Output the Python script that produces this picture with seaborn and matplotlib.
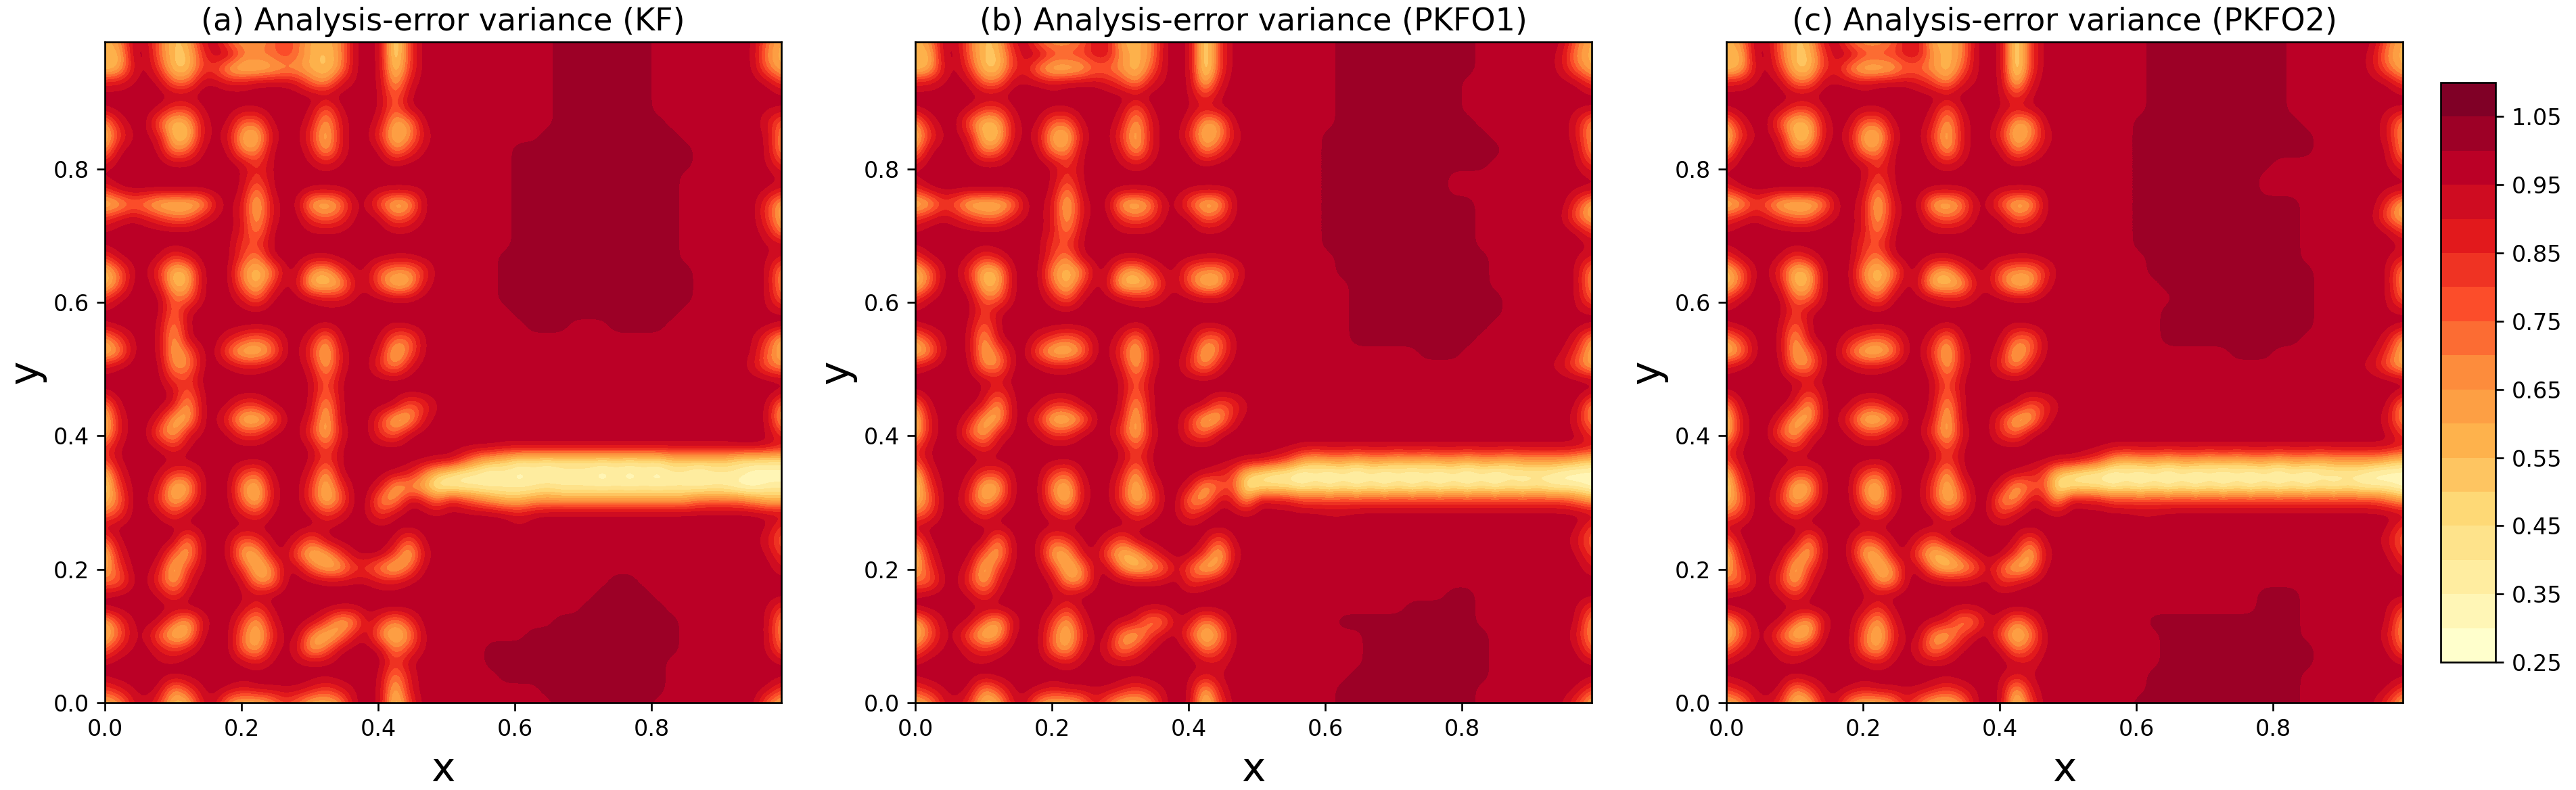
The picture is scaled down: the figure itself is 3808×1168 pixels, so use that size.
import numpy as np
import matplotlib
matplotlib.use('Agg')
import matplotlib.pyplot as plt
from matplotlib.colors import BoundaryNorm, ListedColormap
import seaborn as sns

# variance on a 50x50 grid, top row first.
# each character is one grid value, see band_chars / band_values
band_chars = list('0123456789.#')
band_values = [0.30, 0.37, 0.44, 0.52, 0.57, 0.64, 0.72, 0.81, 0.90, 0.955, 0.98, 1.025]

left_kf = [
    "45996 34896 55676 4459. 917..", "439.6 33799 66676 4359. 917..",
    "348.7 33774 33455 4359. 927..", "889.9 66998 89998 6589. 948..",
    "..... ..... ..... ..... 969..", "9...9 779.. 99... 969.. 969..",
    "58..6 348.9 669.. 848.. 8459.", "379.8 338.8 438.. 738.. 7358.",
    "59..9 569.9 559.. 848.. 9579.", "8.... 99... 979.. 989.. .9...",
    "..... ..... 979.. ..... .....", "79... ..... 959.. 999.. 9999.",
    "34653 3348. 838.9 43599 6349.", "78987 6689. 848.. 7679. 9679.",
    "9.... ..... 859.. 999.. .99..", "..... ..... 779.. ..... .....",
    "79..9 78... 759.. 99... .99..", "369.7 349.. 53599 54799 6557.",
    "36..8 349.. 637.8 33489 6348.", "79... 669.. 869.. 9889. .99..",
    "..... 69... ..... ..... .....", "9...9 59... ..... .9... .9...",
    "579.9 49..8 7679. 859.. 9669.", "359.9 469.6 3359. 738.. 8369.",
    "89... 559.9 889.. 848.. 758..", "..... 77... ..... 969.. .....",
    "9.... 969.. ..... 969.. .....", "59... 849.9 779.. 949.. .9679",
    "38..8 449.7 3359. 839.. 7348.", "38..6 489.9 779.. 738.. 769..",
    "79..9 79... ..... 969.. .....", "79... ..... ..... 979.. ....9",
    "38..9 779.. 769.. 849.. .9863", "27..8 349.. 538.. 737.. 84541",
    "36..7 469.. 638.. 736.. 55986", "67..9 79... 879.. 978.9 79..9",
    "9.... .9... ..... .9... .....", "69... .59.9 679.8 69... .969.",
    "38... 649.9 448.6 3479. .738.", "47..8 379.. 73599 64477 5369.",
    "669.7 48... 9559. .9999 889..", "9...9 79... 99... ..... .....",
    "..... ..... 979.. ..99. .....", "479.9 648.. 748.. 97459 757..",
    "36996 349.. 637.9 53589 5359.", "689.8 78... 648.8 469.. 9579.",
    "9...9 9.... 989.9 99... .79..", "..... ..... ..... ..... 958..",
    "789.9 579.9 89999 8789. 938..", "45897 34895 44576 4459. 927..",
]

left_pkfo = [
    "45996 34896 55688 4459. 917..", "439.6 33799 77788 5459. 917..",
    "348.7 33785 33466 5369. 917..", "889.9 66999 89998 7589. 938..",
    "..... ..... ..... ..... 979..", "9...9 779.. 99... 969.. 989..",
    "58..6 348.9 669.. 848.. 8459.", "379.8 338.8 438.. 738.. 7358.",
    "59..9 569.9 559.. 848.. 9579.", "8.... 99... 979.. 989.. .9...",
    "..... ..... 979.. ..... .....", "79... ..... 959.. 999.. 9999.",
    "34763 3359. 838.9 43599 6349.", "78987 6689. 848.. 7679. 9679.",
    "9.... ..... 859.. 999.. .99..", "..... ..... 779.. ..... .....",
    "79..9 78... 759.. 99... .99..", "369.7 349.. 53599 54799 6557.",
    "36..8 349.. 637.8 33489 6348.", "79... 669.. 869.. 9889. .99..",
    "..... 79... ..... ..... .....", "9...9 69... ..... .9... .9...",
    "579.9 49..8 7679. 859.. 9669.", "359.9 469.6 3359. 738.. 8369.",
    "89... 559.9 889.. 848.. 758..", "..... 98... ..... 969.. .....",
    "9.... 979.. ..... 969.. .....", "59... 849.9 779.. 949.. .9679",
    "38..8 449.7 3359. 839.. 7348.", "38..6 489.9 779.. 738.. 769..",
    "79..9 79... ..... 969.. .....", "79... ..... ..... 979.. ....9",
    "38..9 779.. 769.. 849.. .9873", "27..8 349.. 538.. 737.. 84671",
    "36..7 469.. 638.. 736.. 55985", "67..9 79... 879.. 978.9 79..9",
    "9.... .9... ..... .9... .....", "69... .59.9 679.8 69... .969.",
    "38... 649.9 448.6 3479. .738.", "47..8 379.. 73599 53469 6359.",
    "669.7 48... 9559. .999. 789..", "9...9 79... 99... ..... .....",
    "..... ..... 979.. ..99. .....", "479.9 648.. 748.. 98569 857..",
    "36996 349.. 637.9 5479. 6359.", "689.8 78... 648.8 579.. 9579.",
    "9...9 9.... 989.9 99... .98..", "..... ..... ..... ..... 989..",
    "789.9 579.9 89999 8789. 948..", "45897 34895 44586 4459. 927..",
]

right_kf = [
    "..... ...## ##### ..... ..964", "..... ...## ##### ..... ..954",
    "..... ...## ##### ..... ..964", "..... ...## ##### ..... ...97",
    "..... ...## ##### ..... .....", "..... ...## ##### ..... ...99",
    "..... ...## ##### #.... ...86", "..... ..### ##### ##... ...95",
    "..... ##### ##### ###.. ...95", "..... ##### ##### ###.. ...97",
    "..... ##### ##### ##... ....9", "..... ##### ##### ##... ...98",
    "..... ##### ##### ##... ...74", "..... ##### ##### ##... ...74",
    "..... ##### ##### ##... ...85", "..... ##### ##### ##... ...99",
    "....# ##### ##### ##... ...98", "....# ##### ##### ###.. ...95",
    "....# ##### ##### ###.. ...95", "....# ##### ##### ###.. ...96",
    "..... ##### ##### ##... ...99", "..... .###. ..### #.... .....",
    "..... ..... ..... ..... ..974", "..... ..... ..... ..... ..964",
    "..... ..... ..... ..... ..865", "..... ..... ..... ..... ....9",
    "..... ..... ..... ..... ....9", "..... ..... ..... ..... ...95",
    "..... ..... ..... ..... ...94", "..... ..... ..... ..... ...97",
    "....9 99999 99999 99999 9..98", "97543 22222 22222 23333 32222",
    "21101 01011 10101 01101 11000", "11111 11211 11111 11111 10011",
    "87654 45555 55555 55566 66544", "....9 89... ..... ..... ...99",
    "..... 9.... ..... ..... ...97", "..... ..... ..... ..... ...86",
    "..... ..... ..... ..... ...97", "..... ..... ..... ..... ....8",
    "..... ..... ..##. ..... .....", "..... ..... .#### ..... .....",
    "..... ..... ##### #.... ...97", "..... ...## ##### ##... ...95",
    "..... .#### ##### ##... ...95", "...## ##### ##### ##... ...96",
    "...## ##### ##### #.... ....9", "....# ##### ##### #.... .....",
    "..... ..### ##### #.... ...97", "..... ...## ##### ..... ...64",
]

right_pkfo1 = [
    "..... .#### ##### #.... ..964", "..... .#### ##### #.... ..854",
    "..... .#### ##### #.... ..864", "..... .#### ##### ..... ...97",
    "..... .#### ##### ..... .....", "..... .#### ##### ..... ...99",
    "..... .#### ##### #.... ...85", "..... ##### ##### ##... ...85",
    "..... ##### ##### ###.. ...95", "..... ##### ##### ##... ...97",
    "..... ##### ####. ..... ....9", "..... ##### ####. ..... ...99",
    "..... ##### ##### #.... ...74", "..... ##### ##### #.... ..964",
    "..... ##### ##### #.... ...97", "..... ##### ##### #.... ....9",
    "..... .#### ##### ##... ...98", "..... .#### ##### ##... ...95",
    "..... ..### ##### ##... ...95", "..... ..### ##### ###.. ...96",
    "..... ..### ##### ###.. ...99", "..... ..### ##### ##... .....",
    "..... ..### ##### #.... ...85", "..... ..... ..### ..... ..974",
    "..... ..... ..... ..... .9864", "..... ..... ..... ..... ....9",
    "..... ..... ..... ..... ....9", "..... ..... ..... ..... ...95",
    "..... ..... ..... ..... ...85", "..... ..... ..... ..... ...97",
    "...99 99999 99999 99999 99998", "98754 55455 45455 45545 55543",
    "21101 01010 10101 01011 11000", "22212 12121 21212 12121 21110",
    "98877 77777 77777 77777 77765", "..... 99... ..... ..... ....9",
    "..... ..... ..... ..... ...97", "..... ..... ..... ..... ...86",
    "..... ..... ..... ..... ...97", "..... ..... ..... ..... ....8",
    "..... ..... ..... ..... .....", "..... ..... ....# #.... .....",
    "..... ..... .#### #.... ...97", "..... .#### ##### #.... ...95",
    "..... ...## ##### ##... ...85", "..... ...## ##### ##... ...96",
    "..... ...## ##### ##... ....9", "..... ..### ##### ##... .....",
    "..... .#### ##### #.... ...97", "..... .#### ##### #.... ..974",
]

right_pkfo2 = [
    "..... .#### ##### #.... ..964", "..... .#### ##### #.... ..854",
    "..... .#### ##### #.... ..864", "..... .#### ##### #.... ...97",
    "..... .#### ##### #.... .....", "..... .#### ##### #.... ...99",
    "..... ##### ##### ##... ...85", "..... ##### ##### ###.. ...85",
    "..... ##### ##### ###.. ...95", "..... ##### ##### ..... ...97",
    "..... ##### ####. ..... ....9", "..... ##### ####. ..... ...99",
    "..... ##### ##### ##... ...74", "..... ##### ##### ##... ..964",
    "..... ##### ##### ##... ...97", "..... ##### ##### ##... ....9",
    "..... .#### ##### ##... ...98", "..... .#### ##### ###.. ...95",
    "..... ..### ##### ###.. ...95", "..... ...## ##### ###.. ...96",
    "..... ..### ##### ###.. ...99", "..... ..### ##### ###.. .....",
    "..... ..### ##### ##... ...85", "..... ..... ..### ..... ..974",
    "..... ..... ..... ..... .9864", "..... ..... ..... ..... ....9",
    "..... ..... ..... ..... ....9", "..... ..... ..... ..... ...95",
    "..... ..... ..... ..... ...85", "..... ..... ..... ..... ...97",
    "...99 99999 99999 99999 99998", "98754 55455 45455 45545 55543",
    "21101 01010 10101 01011 11000", "22212 12121 21212 12121 21110",
    "98877 77777 77777 77777 77765", "..... 99... ..... ..... ....9",
    "..... ..... ..... ..... ...97", "..... ..... ..... ..... ...86",
    "..... ..... ..... ..... ...97", "..... ..... ..... ..... ....8",
    "..... ..... ..... ..... .....", "..... ..... ....# ##... .....",
    "..... ..... ....# ##... ...97", "..... .#### ##### ##... ...95",
    "..... ..### ##### ##... ...85", "..... ..### ##### ###.. ...96",
    "..... ..### ##### ###.. ....9", "..... .#### ##### ##... .....",
    "..... .#### ##### ##... ...97", "..... ##### ##### ##... ..974",
]

panel_titles = ['(a) Analysis-error variance (KF)',
                '(b) Analysis-error variance (PKFO1)',
                '(c) Analysis-error variance (PKFO2)']
panel_lefts = [155, 1353, 2552]
band_edges = np.round(np.arange(0.25, 1.101, 0.05), 2)
cbar_ticks = np.round(np.arange(0.25, 1.06, 0.1), 2)
axis_ticks = [0.0, 0.2, 0.4, 0.6, 0.8]
x_max = 0.99


def to_field(left_rows, right_rows):
    lookup = dict(zip(band_chars, band_values))
    field = []
    for i, (l, r) in enumerate(zip(left_rows, right_rows)):
        row = (l + r).replace(' ', '')
        if len(row) != 50:
            raise ValueError(f'row {i} has {len(row)} values')
        field.append([lookup[c] for c in row])
    return np.array(field)


def plot_variance():
    sns.set_style('ticks')
    W, H = 3808, 1168
    fig = plt.figure(figsize=(W / 240, H / 240), dpi=240)

    ylorrd = sns.color_palette('YlOrRd', as_cmap=True)
    n_bands = len(band_edges) - 1
    cmap = ListedColormap([ylorrd(i / (n_bands - 1)) for i in range(n_bands)])
    norm = BoundaryNorm(band_edges, n_bands, clip=True)

    fields = [to_field(left_kf, right_kf),
              to_field(left_pkfo, right_pkfo1),
              to_field(left_pkfo, right_pkfo2)]
    half = x_max / 49 / 2

    for i, field in enumerate(fields):
        ax = fig.add_axes([panel_lefts[i] / W, (H - 1039) / H, 1000 / W, 977 / H])
        im = ax.imshow(field, extent=(-half, x_max + half, -half, x_max + half),
                       origin='upper', aspect='auto', cmap=cmap, norm=norm,
                       interpolation='bicubic', interpolation_stage='data')
        ax.set_xlim(0, x_max)
        ax.set_ylim(0, x_max)
        ax.set_xticks(axis_ticks)
        ax.set_yticks(axis_ticks)
        ax.tick_params(labelsize=10, length=3.5, width=0.8, color='black', labelcolor='black')
        for side in ax.spines.values():
            side.set_visible(True)
            side.set_linewidth(0.8)
            side.set_color('black')
        ax.set_title(panel_titles[i], fontsize=13.8, pad=5, color='black')
        ax.set_xlabel('x', fontsize=18, color='black', labelpad=4)
        ax.set_ylabel('y', fontsize=18, color='black', labelpad=3)

    cax = fig.add_axes([3608 / W, (H - 979) / H, 81 / W, 857 / H])
    cbar = fig.colorbar(im, cax=cax, ticks=cbar_ticks, format='%.2f')
    cbar.ax.tick_params(labelsize=10, length=3.5, width=0.8, color='black', labelcolor='black')
    cbar.outline.set_linewidth(0.8)
    cbar.outline.set_edgecolor('black')
    cbar.minorticks_off()

    fig.savefig('out.png', dpi=240)
    plt.close(fig)


if __name__ == "__main__":
    plot_variance()
